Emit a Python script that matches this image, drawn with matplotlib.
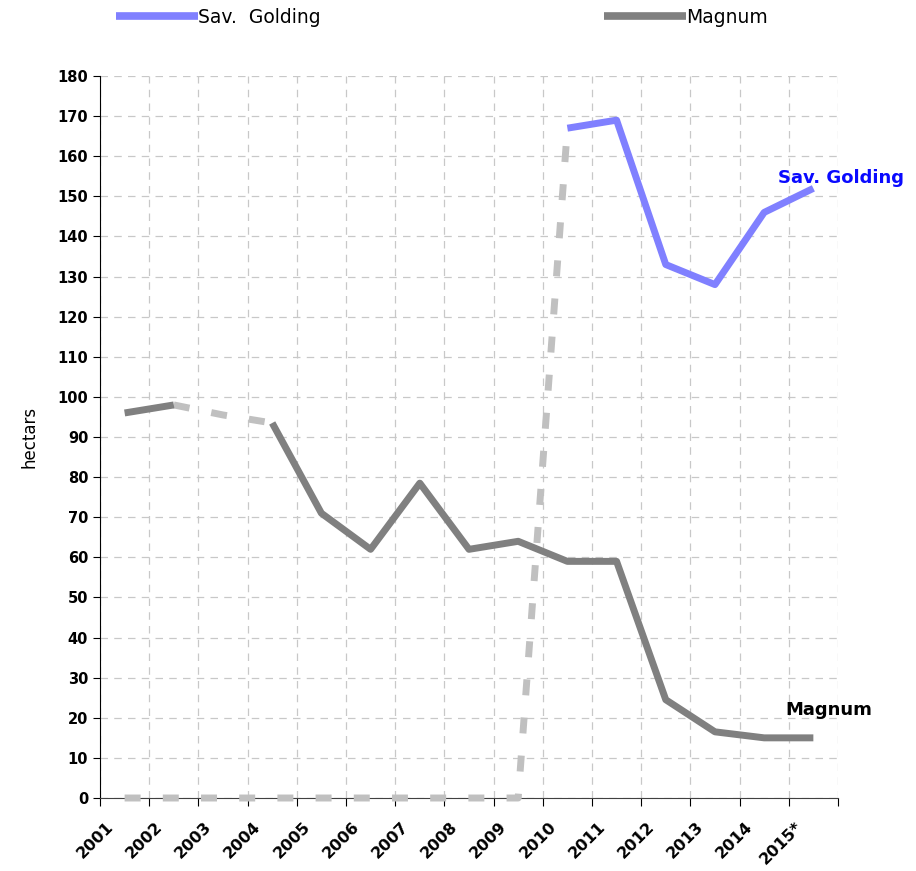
import matplotlib.pyplot as plt
import matplotlib.transforms as mtransforms
import numpy as np

years = ['2001', '2002', '2003', '2004', '2005', '2006', '2007', '2008',
         '2009', '2010', '2011', '2012', '2013', '2014', '2015*']
sav_golding = [0, 0, 0, 0, 0, 0, 0, 0, 0, 167, 169, 133, 128, 146, 152]
magnum = [96, 98, 95.5, 93.5, 71, 62, 78.5, 62, 64, 59, 59, 24.5, 16.5, 15, 15]

blue = '#8080ff'
grey = '#808080'
light = '#c0c0c0'

x = np.arange(len(years))
sg = np.array(sav_golding, dtype=float)
mg = np.array(magnum, dtype=float)

fig = plt.figure(figsize=(9.16, 8.71), dpi=100)
ax = fig.add_axes([0.1092, 0.0838, 0.8056, 0.8289])

lw = 5
dash = (2.3, 3.2)

# light dashed parts (missing / zero years)
ax.plot(x[0:10], sg[0:10], color=light, lw=lw, dashes=dash, clip_on=False, zorder=3)
ax.plot(x[1:4], mg[1:4], color=light, lw=lw, dashes=dash, zorder=3)

# solid parts
ax.plot(x[9:], sg[9:], color=blue, lw=lw, solid_capstyle='butt', zorder=4,
        label='Sav.  Golding')
ax.plot(x[0:2], mg[0:2], color=grey, lw=lw, solid_capstyle='butt', zorder=4)
ax.plot(x[3:], mg[3:], color=grey, lw=lw, solid_capstyle='butt', zorder=4,
        label='Magnum')

ax.set_xlim(-0.5, len(years) - 0.5)
ax.set_ylim(0, 180)
ax.set_yticks(np.arange(0, 181, 10))
for lab in ax.get_yticklabels():
    lab.set_fontweight('bold')
    lab.set_fontsize(10.5)

ax.set_xticks(np.arange(-0.5, len(years), 1.0))
ax.set_xticklabels([])
ax.set_xticks(x, years, minor=True)
ax.tick_params(axis='x', which='minor', length=0, pad=0)
ax.tick_params(axis='x', which='major', length=6, direction='out')
ax.tick_params(axis='y', length=5, direction='out')
shift = mtransforms.ScaledTranslation(-0.19, -0.21, fig.dpi_scale_trans)
for lab in ax.get_xticklabels(minor=True):
    lab.set_rotation(45)
    lab.set_ha('right')
    lab.set_va('top')
    lab.set_rotation_mode('anchor')
    lab.set_fontweight('bold')
    lab.set_fontsize(11.5)
    lab.set_transform(lab.get_transform() + shift)

ax.grid(True, which='major', color='#c8c8c8', linestyle=(0, (6, 5)), lw=0.9)
ax.set_axisbelow(True)
for s in ['top', 'right']:
    ax.spines[s].set_visible(False)
ax.spines['bottom'].set_color('#404040')

ax.set_ylabel('hectars', fontsize=12, labelpad=14)

ax.text(14.56, 154.5, 'Sav. Golding', color='#0a0aff', fontsize=13,
        fontweight='bold', ha='center', va='center')
ax.text(14.32, 21.9, 'Magnum', color='black', fontsize=13,
        fontweight='bold', ha='center', va='center')

leg = fig.legend(loc='upper left', bbox_to_anchor=(0.116, 1.002), ncol=2,
                 frameon=False, fontsize=13.5, handlelength=4.4, handletextpad=0.0,
                 columnspacing=15.1, borderpad=0)
for h in leg.get_lines():
    h.set_linewidth(5.5)
    h.set_solid_capstyle('butt')

fig.savefig('out.png', dpi=100)
